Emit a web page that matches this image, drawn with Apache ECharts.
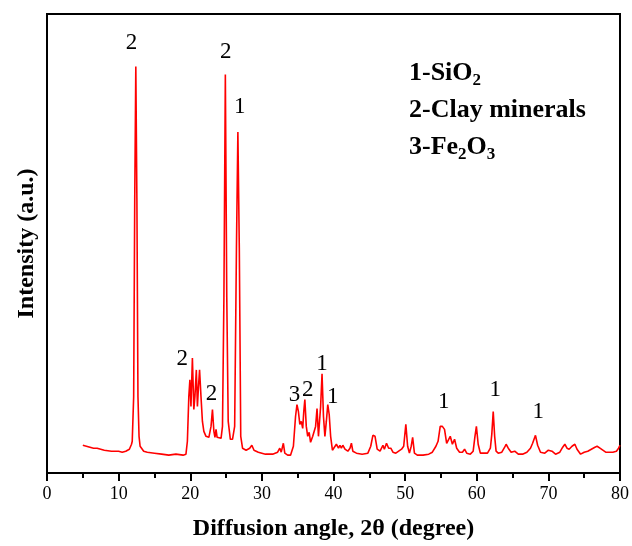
<!DOCTYPE html>
<html>
<head>
<meta charset="utf-8">
<script src="https://cdn.jsdelivr.net/npm/echarts@6/dist/echarts.min.js"></script>
<style>
html,body{margin:0;padding:0;background:#fff;}
#chart{width:632px;height:546px;}
</style>
</head>
<body>
<div id="chart"></div>
<script>
// XRD pattern: diffraction angle (2θ, degree)
const angle = [
5.0,5.5,6.0,6.5,7.0,7.5,8.0,9.0,10.0,10.5,11.0,11.5,11.8,11.9,12.1,12.25,12.4,12.55,12.7,12.85,13.0,13.5,14,15,16,17,18,19,19.4,19.6,19.8,19.95,20.1,20.3,20.5,20.65,20.85,21.0,21.15,21.3,21.5,21.7,21.9,22.2,22.6,22.9,23.1,23.3,23.45,23.6,23.75,24.0,24.3,24.5,24.7,24.9,25.1,25.3,25.6,25.9,26.2,26.45,26.65,26.85,27.05,27.3,27.8,28.3,28.6,28.9,29.5,30.5,31.5,32.2,32.5,32.7,33.0,33.2,33.6,34.0,34.4,34.7,34.9,35.1,35.3,35.5,35.7,35.85,36.0,36.2,36.4,36.6,36.8,37.1,37.3,37.5,37.7,37.9,38.05,38.2,38.4,38.6,38.8,39.0,39.2,39.4,39.6,39.85,40.1,40.4,40.7,40.9,41.1,41.3,41.6,42.0,42.3,42.5,42.7,43.2,44.0,44.8,45.2,45.5,45.8,46.1,46.5,46.9,47.1,47.4,47.7,48.0,48.3,48.7,49.1,49.5,49.8,50.1,50.35,50.6,50.85,51.05,51.3,51.7,52.5,53.3,53.8,54.3,54.6,54.9,55.2,55.5,55.8,56.0,56.3,56.6,56.9,57.2,57.6,58.0,58.3,58.6,59.1,59.5,59.75,59.95,60.2,60.5,61.0,61.5,61.9,62.1,62.3,62.5,62.7,63.0,63.5,63.9,64.1,64.4,64.8,65.3,65.8,66.4,67.0,67.5,67.8,68.0,68.2,68.5,68.9,69.5,70.0,70.2,70.5,71.0,71.6,72.0,72.3,72.6,72.9,73.3,73.7,74.0,74.5,75.0,75.5,76.0,76.5,76.8,77.2,77.6,78.0,78.5,79.0,79.5,79.8,80.0
];
// Intensity (a.u.)
const intensity = [
28,27,26,25,25,24,23,22,22,21,22,24,29,32,77,277,410,277,77,37,27,22,21,20,19,18,19,18,19,32,77,94,67,116,64,77,104,67,87,104,77,52,42,37,36,47,64,42,36,44,36,35,35,47,177,402,177,52,34,34,47,227,344,227,37,25,23,25,28,23,21,19,19,21,25,21,30,20,18,18,27,57,69,62,49,52,45,62,74,47,37,41,31,37,35,47,65,37,36,67,100,57,37,52,69,59,37,23,25,29,25,28,25,28,24,22,25,30,22,20,19,20,27,38,37,24,22,28,24,30,25,25,21,20,22,24,27,49,27,20,27,36,20,18,18,19,21,27,32,47,47,44,30,28,37,29,34,25,21,21,24,20,19,22,37,47,29,20,20,20,25,39,62,37,22,20,21,26,29,25,21,22,19,19,21,25,30,32,38,28,21,20,23,25,22,19,21,26,29,25,24,27,29,24,19,21,22,24,26,27,25,23,21,21,21,22,25,28
];
// Peak annotations (phase index) and their anchor positions in data units
const peakLabelText = ['2','2','1','2','2','3','2','1','1','1','1','1'];
const peakLabelX = [11.8,24.95,26.9,18.9,22.95,34.56,36.4,38.4,39.9,55.4,62.6,68.6];
const peakLabelY = [434,425,369,115,80,79,84,110,77,72,84,62];
// Phase legend: segments, second item true = subscript
const legendLines = [
  [['1-SiO',false],['2',true]],
  [['2-Clay minerals',false]],
  [['3-Fe',false],['2',true],['O',false],['3',true]]
];
const xTicks = {min:0, max:80, interval:10};

const serif = '"Liberation Serif","Times New Roman",serif';
const chart = echarts.init(document.getElementById('chart'), null, {renderer:'canvas'});

const lineData = angle.map((a,i)=>[a,intensity[i]]);

// legend layout (pixels)
const ctx = document.createElement('canvas').getContext('2d');
const mainFont = 'bold 26px "Liberation Serif"';
const subFont = 'bold 17px "Liberation Serif"';
function measure(t, font){ ctx.font = font; return ctx.measureText(t).width; }
const legendGraphics = [];
const legLeft = 409, legTop = 73.5, legStep = 37;
legendLines.forEach((segs, li) => {
  let x = legLeft;
  const yc = legTop + li*legStep;
  segs.forEach(([t, sub]) => {
    const font = sub ? subFont : mainFont;
    legendGraphics.push({type:'text', x:x, y: sub ? yc+7.5 : yc, z:10,
      style:{text:t, font:font, fill:'#000', align:'left', verticalAlign:'middle'}});
    x += measure(t, font);
  });
});

chart.setOption({
  animation:false,
  backgroundColor:'#fff',
  grid:{left:47,top:14,right:11,bottom:69,show:true,borderColor:'#000',borderWidth:2,backgroundColor:'transparent'},
  xAxis:{
    type:'value', min:xTicks.min, max:xTicks.max, interval:xTicks.interval,
    axisLine:{lineStyle:{color:'#000',width:2}},
    axisTick:{show:true,length:8,lineStyle:{color:'#000',width:2}},
    minorTick:{show:true,splitNumber:2,length:5,lineStyle:{color:'#000',width:2}},
    splitLine:{show:false},
    axisLabel:{color:'#000',fontSize:18,fontFamily:serif,margin:12},
    name:'Diffusion angle, 2θ (degree)', nameLocation:'middle', nameGap:44,
    nameTextStyle:{color:'#000',fontSize:24,fontWeight:'bold',fontFamily:serif}
  },
  yAxis:{
    type:'value', min:0, max:463,
    axisLine:{show:true,lineStyle:{color:'#000',width:2}},
    axisTick:{show:false}, axisLabel:{show:false}, splitLine:{show:false},
    name:'Intensity (a.u.)', nameLocation:'middle', nameGap:8,
    nameTextStyle:{color:'#000',fontSize:24,fontWeight:'bold',fontFamily:serif}
  },
  series:[
    {type:'line', data:lineData, showSymbol:false, symbol:'none', smooth:false,
     lineStyle:{color:'#ff0000',width:1.6}, z:3}
  ],
  graphic: legendGraphics
});

// Peak annotation labels placed through the chart's own scales
const peakGraphics = peakLabelX.map((x,i) => {
  const p = chart.convertToPixel({gridIndex:0}, [x, peakLabelY[i]]);
  return {type:'text', x:p[0], y:p[1], z:10,
    style:{text:peakLabelText[i], font:'23px "Liberation Serif"', fill:'#000', align:'center', verticalAlign:'middle'}};
});
chart.setOption({graphic: legendGraphics.concat(peakGraphics)});
</script>
</body>
</html>
